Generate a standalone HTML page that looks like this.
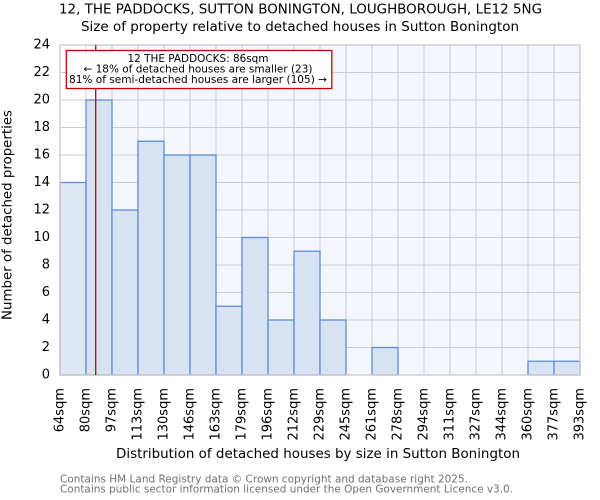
<!DOCTYPE html>
<html>
<head>
<meta charset="utf-8">
<style>
html,body{margin:0;padding:0;background:#fff;}
svg{display:block;}
text{font-family:"DejaVu Sans","Liberation Sans",sans-serif;}
</style>
</head>
<body>
<svg width="600" height="500" viewBox="0 0 600 500" xmlns="http://www.w3.org/2000/svg">
<rect x="0" y="0" width="600" height="500" fill="#ffffff"/>
<!-- plot background -->
<rect x="60" y="45" width="520" height="330" fill="#ffffff"/>
<rect x="95.7" y="45" width="484.3" height="330" fill="#f3f6fd"/>
<!-- grid -->
<g stroke="#cccccc" stroke-width="1">
<line x1="60" y1="45" x2="580" y2="45"/>
<line x1="60" y1="72.5" x2="580" y2="72.5"/>
<line x1="60" y1="100" x2="580" y2="100"/>
<line x1="60" y1="127.5" x2="580" y2="127.5"/>
<line x1="60" y1="155" x2="580" y2="155"/>
<line x1="60" y1="182.5" x2="580" y2="182.5"/>
<line x1="60" y1="210" x2="580" y2="210"/>
<line x1="60" y1="237.5" x2="580" y2="237.5"/>
<line x1="60" y1="265" x2="580" y2="265"/>
<line x1="60" y1="292.5" x2="580" y2="292.5"/>
<line x1="60" y1="320" x2="580" y2="320"/>
<line x1="60" y1="347.5" x2="580" y2="347.5"/>
<line x1="86" y1="45" x2="86" y2="375"/>
<line x1="112" y1="45" x2="112" y2="375"/>
<line x1="138" y1="45" x2="138" y2="375"/>
<line x1="164" y1="45" x2="164" y2="375"/>
<line x1="190" y1="45" x2="190" y2="375"/>
<line x1="216" y1="45" x2="216" y2="375"/>
<line x1="242" y1="45" x2="242" y2="375"/>
<line x1="268" y1="45" x2="268" y2="375"/>
<line x1="294" y1="45" x2="294" y2="375"/>
<line x1="320" y1="45" x2="320" y2="375"/>
<line x1="346" y1="45" x2="346" y2="375"/>
<line x1="372" y1="45" x2="372" y2="375"/>
<line x1="398" y1="45" x2="398" y2="375"/>
<line x1="424" y1="45" x2="424" y2="375"/>
<line x1="450" y1="45" x2="450" y2="375"/>
<line x1="476" y1="45" x2="476" y2="375"/>
<line x1="502" y1="45" x2="502" y2="375"/>
<line x1="528" y1="45" x2="528" y2="375"/>
<line x1="554" y1="45" x2="554" y2="375"/>
</g>
<!-- bars -->
<g stroke="#5b8fd6" stroke-width="1.3" fill="#d7e2f3">
<rect x="60" y="182.5" width="26" height="192.5" fill="#dfe7f4"/>
<rect x="86" y="100" width="26" height="275"/>
<rect x="112" y="210" width="26" height="165"/>
<rect x="138" y="141.25" width="26" height="233.75"/>
<rect x="164" y="155" width="26" height="220"/>
<rect x="190" y="155" width="26" height="220"/>
<rect x="216" y="306.25" width="26" height="68.75"/>
<rect x="242" y="237.5" width="26" height="137.5"/>
<rect x="268" y="320" width="26" height="55"/>
<rect x="294" y="251.25" width="26" height="123.75"/>
<rect x="320" y="320" width="26" height="55"/>
<rect x="372" y="347.5" width="26" height="27.5"/>
<rect x="528" y="361.25" width="26" height="13.75"/>
<rect x="554" y="361.25" width="26" height="13.75"/>
</g>
<!-- frame -->
<rect x="60" y="45" width="520" height="330" fill="none" stroke="#cccccc" stroke-width="1.4"/>
<!-- red marker line -->
<line x1="95.7" y1="45" x2="95.7" y2="375" stroke="#cc0000" stroke-width="1.3"/>
<!-- annotation box -->
<rect x="66.3" y="50.5" width="265.5" height="38" fill="#ffffff" stroke="#cc0000" stroke-width="1.3"/>
<g font-size="10.5" fill="#000" text-anchor="middle">
<text x="198" y="62" textLength="141" lengthAdjust="spacingAndGlyphs">12 THE PADDOCKS: 86sqm</text>
<text x="198" y="72.5" textLength="229" lengthAdjust="spacingAndGlyphs">← 18% of detached houses are smaller (23)</text>
<text x="198" y="83" textLength="258" lengthAdjust="spacingAndGlyphs">81% of semi-detached houses are larger (105) →</text>
</g>
<!-- titles -->
<text x="300.5" y="13.5" font-size="13" text-anchor="middle" fill="#000" textLength="483" lengthAdjust="spacingAndGlyphs">12, THE PADDOCKS, SUTTON BONINGTON, LOUGHBOROUGH, LE12 5NG</text>
<text x="300" y="30.8" font-size="13" text-anchor="middle" fill="#000" textLength="438" lengthAdjust="spacingAndGlyphs">Size of property relative to detached houses in Sutton Bonington</text>
<!-- y tick labels -->
<g font-size="13" fill="#000" text-anchor="end" dominant-baseline="central">
<text x="50" y="45">24</text>
<text x="50" y="72.5">22</text>
<text x="50" y="100">20</text>
<text x="50" y="127.5">18</text>
<text x="50" y="155">16</text>
<text x="50" y="182.5">14</text>
<text x="50" y="210">12</text>
<text x="50" y="237.5">10</text>
<text x="50" y="265">8</text>
<text x="50" y="292.5">6</text>
<text x="50" y="320">4</text>
<text x="50" y="347.5">2</text>
<text x="50" y="375">0</text>
</g>
<!-- x tick labels -->
<g font-size="13" fill="#000" text-anchor="end" dominant-baseline="central">
<text transform="translate(60,388) rotate(-90)">64sqm</text>
<text transform="translate(86,388) rotate(-90)">80sqm</text>
<text transform="translate(112,388) rotate(-90)">97sqm</text>
<text transform="translate(138,388) rotate(-90)">113sqm</text>
<text transform="translate(164,388) rotate(-90)">130sqm</text>
<text transform="translate(190,388) rotate(-90)">146sqm</text>
<text transform="translate(216,388) rotate(-90)">163sqm</text>
<text transform="translate(242,388) rotate(-90)">179sqm</text>
<text transform="translate(268,388) rotate(-90)">196sqm</text>
<text transform="translate(294,388) rotate(-90)">212sqm</text>
<text transform="translate(320,388) rotate(-90)">229sqm</text>
<text transform="translate(346,388) rotate(-90)">245sqm</text>
<text transform="translate(372,388) rotate(-90)">261sqm</text>
<text transform="translate(398,388) rotate(-90)">278sqm</text>
<text transform="translate(424,388) rotate(-90)">294sqm</text>
<text transform="translate(450,388) rotate(-90)">311sqm</text>
<text transform="translate(476,388) rotate(-90)">327sqm</text>
<text transform="translate(502,388) rotate(-90)">344sqm</text>
<text transform="translate(528,388) rotate(-90)">360sqm</text>
<text transform="translate(554,388) rotate(-90)">377sqm</text>
<text transform="translate(580,388) rotate(-90)">393sqm</text>
</g>
<!-- axis labels -->
<text x="318" y="458" font-size="13" text-anchor="middle" fill="#000" textLength="404" lengthAdjust="spacingAndGlyphs">Distribution of detached houses by size in Sutton Bonington</text>
<text transform="translate(11.5,215) rotate(-90)" font-size="13" text-anchor="middle" fill="#000" textLength="210" lengthAdjust="spacingAndGlyphs">Number of detached properties</text>
<!-- footer -->
<g font-size="10.5" fill="#707070">
<text x="60" y="482.7" textLength="408" lengthAdjust="spacingAndGlyphs">Contains HM Land Registry data © Crown copyright and database right 2025.</text>
<text x="60" y="492.7" textLength="453" lengthAdjust="spacingAndGlyphs">Contains public sector information licensed under the Open Government Licence v3.0.</text>
</g>
</svg>
</body>
</html>
